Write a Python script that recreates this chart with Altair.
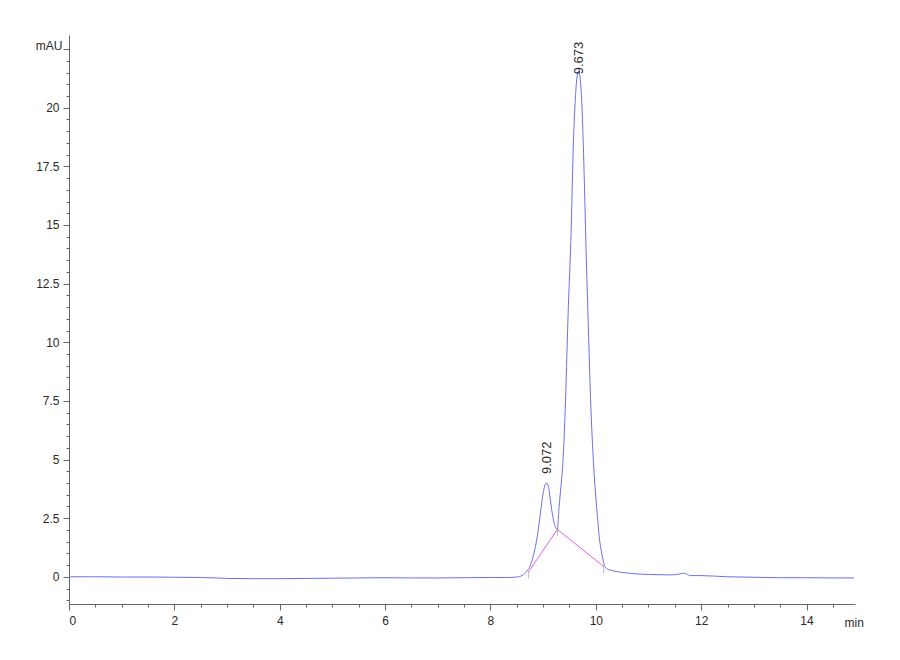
import altair as alt
import pandas as pd

# Chromatogram trace (time in min, signal in mAU)
time_min = [0.0, 0.5, 1.0, 1.5, 2.0, 2.5, 2.8, 3.0, 3.5, 4.0, 4.5, 5.0, 5.5, 6.0,
            6.5, 7.0, 7.5, 8.0, 8.3, 8.5, 8.6, 8.65, 8.70, 8.75, 8.80, 8.84, 8.88,
            8.92, 8.94, 8.97, 9.00, 9.03, 9.065, 9.10, 9.13, 9.16, 9.19, 9.22, 9.25,
            9.27, 9.30, 9.34, 9.37, 9.40, 9.425, 9.45, 9.48, 9.51, 9.53, 9.57, 9.60,
            9.63, 9.66, 9.68, 9.70, 9.73, 9.76, 9.79, 9.81, 9.85, 9.88, 9.90, 9.93,
            9.96, 10.00, 10.03, 10.06, 10.10, 10.14, 10.17, 10.22, 10.3, 10.4, 10.6,
            10.8, 11.0, 11.2, 11.4, 11.55, 11.65, 11.72, 11.8, 12.0, 12.5, 13.0,
            13.5, 14.0, 14.5, 14.9]
signal_mau = [0.00, 0.00, -0.01, -0.01, -0.02, -0.03, -0.05, -0.07, -0.08, -0.08,
              -0.07, -0.06, -0.05, -0.04, -0.05, -0.05, -0.04, -0.03, -0.03, -0.01,
              0.05, 0.14, 0.28, 0.45, 0.78, 1.14, 1.60, 2.20, 2.56, 3.10, 3.55, 3.88,
              4.00, 3.85, 3.40, 2.90, 2.50, 2.20, 2.05, 2.02, 2.90, 3.90, 4.70, 6.00,
              7.50, 9.40, 11.60, 13.30, 14.60, 18.20, 19.90, 21.00, 21.50, 21.55,
              21.30, 20.40, 18.60, 16.20, 14.40, 11.30, 9.00, 7.60, 6.00, 4.70, 3.40,
              2.60, 1.80, 1.15, 0.70, 0.45, 0.33, 0.27, 0.22, 0.16, 0.12, 0.10, 0.09,
              0.08, 0.10, 0.15, 0.12, 0.05, 0.05, 0.00, -0.02, -0.04, -0.04, -0.05,
              -0.05]

# Integration baseline (drop points)
base_time = [8.72, 9.27, 10.15]
base_signal = [0.20, 2.02, 0.44]

# Peak annotations
peak_time = [9.072, 9.673]
peak_height = [4.00, 21.55]
peak_label = ["9.072", "9.673"]

x_ticks = [i * 0.5 for i in range(30)]
y_ticks = [-1.0 + i * 0.5 for i in range(48)]

trace = pd.DataFrame({"t": time_min, "s": signal_mau})
base = pd.DataFrame({"t": base_time, "s": base_signal})
peaks = pd.DataFrame({"t": peak_time, "s": peak_height, "label": peak_label})

FONT = "Liberation Sans Narrow, Liberation Sans, Arial, sans-serif"
PFONT = "Liberation Sans, Arial, sans-serif"
AX = "#666666"
TXT = "#2a2a2a"

x_scale = alt.Scale(domain=[0, 14.92], nice=False, zero=False)
y_scale = alt.Scale(domain=[-1.16, 23.1], nice=False, zero=False)

x_axis = alt.Axis(
    values=x_ticks, grid=False, format="~g",
    labelExpr="datum.value % 2 === 0 ? datum.label : ''",
    labelOverlap=False, labelFont=FONT, labelFontSize=12, labelColor=TXT,
    labelPadding=5, domainColor=AX, tickColor=AX,
    tickSize={"condition": {"test": "datum.value % 2 === 0", "value": 6}, "value": 3},
    title="min", titleFont=FONT, titleFontSize=12, titleFontWeight="normal",
    titleColor=TXT, titleAngle=0, titleAlign="left", titleBaseline="top",
    titleX=775, titleY=13,
)
y_axis = alt.Axis(
    values=y_ticks, grid=False, format="~g",
    labelExpr="(datum.value % 2.5 === 0 && datum.value >= 0 && datum.value <= 20) ? datum.label : ''",
    labelOverlap=False, labelFont=FONT, labelFontSize=12, labelColor=TXT,
    labelPadding=4, domainColor=AX, tickColor=AX,
    tickSize={"condition": {"test": "datum.value % 2.5 === 0", "value": 6}, "value": 3},
    title="mAU", titleFont=FONT, titleFontSize=12, titleFontWeight="normal",
    titleColor=TXT, titleAngle=0, titleAlign="right", titleBaseline="middle",
    titleX=-7, titleY=10,
)

X = alt.X("t:Q", scale=x_scale, axis=x_axis)
Y = alt.Y("s:Q", scale=y_scale, axis=y_axis)

line = alt.Chart(trace).mark_line(color="#6f6fe6", strokeWidth=1, interpolate="monotone").encode(x=X, y=Y)

baseline = alt.Chart(base).mark_line(color="#e060e0", strokeWidth=1).encode(x=X, y=Y)

drops = alt.Chart(base).mark_tick(
    color="#999999", orient="vertical", size=7, thickness=1, yOffset=3
).encode(x=X, y=Y)

label_small = alt.Chart(peaks).transform_filter("datum.label == '9.072'").mark_text(
    angle=270, align="left", baseline="middle", font=PFONT, fontSize=13, color=TXT, dx=9
).encode(x=X, y=Y, text="label:N")

label_main = alt.Chart(peaks).transform_filter("datum.label == '9.673'").mark_text(
    angle=270, align="left", baseline="middle", font=PFONT, fontSize=13, color=TXT, dx=-3
).encode(x=X, y=Y, text="label:N")

chart = alt.layer(line, baseline, drops, label_small, label_main).properties(
    width=786, height=569,
    autosize=alt.AutoSizeParams(type="none"),
    padding={"left": 61, "top": 27, "right": 30, "bottom": 40},
).configure_view(stroke=None)

chart.save("out.html", embed_options={"renderer": "svg", "actions": False})
